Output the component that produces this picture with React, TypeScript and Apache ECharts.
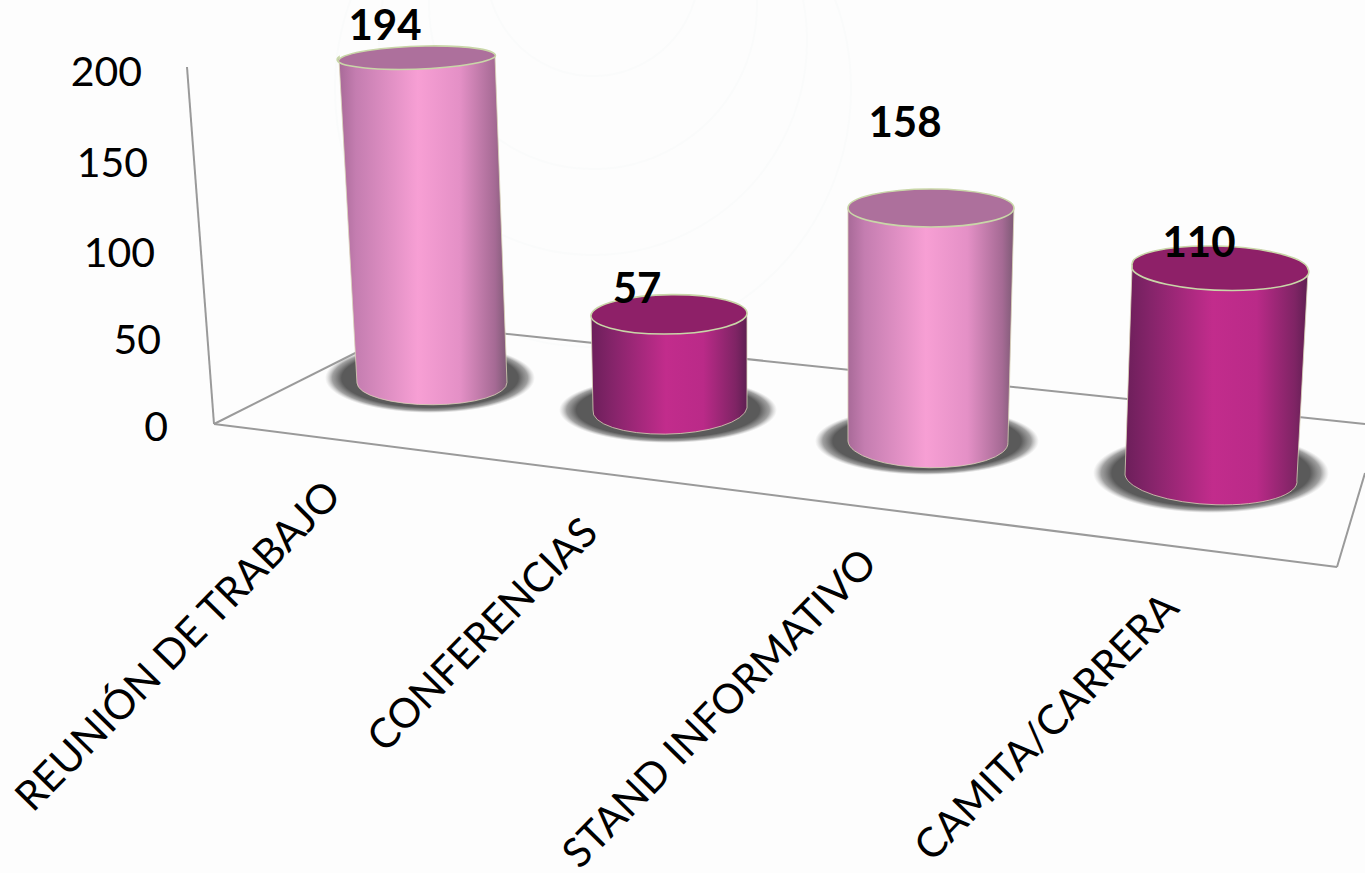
import React, { useEffect, useRef } from "react";
import * as echarts from "echarts";

// ---- data ----
const categories = ["REUNIÓN DE TRABAJO", "CONFERENCIAS", "STAND INFORMATIVO", "CAMITA/CARRERA"];
const values = [194, 57, 158, 110];
const yTicks = [0, 50, 100, 150, 200];

// ---- the reference's 3-D perspective, per category (layout only) ----
const baseOffset = [[77.6, -42], [34.9, -15], [12.1, 16], [14.4, 50]];
const heightScale = [0.947, 0.949, 0.831, 1.055];
const topLean = [-15, -1, 3, 9];
const topRadii = [[78, 12, -2], [78, 20, -1], [83, 19, 0], [88, 21, 2.3]];
const bottomRadii = [[75, 22, -0.4], [77, 25, -1.5], [80, 26, 1], [86, 27, 3.3]];
const shadows = [[430, 378, 105, 35], [668, 410, 109, 33], [927, 441, 112, 34], [1211, 473, 118, 40]];
const labelOffset = [[-32, -33], [-32, -27], [-26, -87], [-21, -28]];
const axisLabelEnd = [[332, 487], [589, 524], [868, 555], [1170, 599]];
const tickNudge: Record<number, number[]> = {
  0: [0, 0], 50: [3.5, 7], 100: [7, 13], 150: [4.5, 20], 200: [0, 26],
};
const backgroundRings = [[593, 89, 258], [593, 41, 214], [593, 5, 164], [593, -30, 106]];

const FONT = "Lato, 'Open Sans', sans-serif";
const LIGHT = {
  top: "#ad709c",
  body: [[0, "#a86a98"], [0.1, "#c47db0"], [0.47, "#f79fd4"], [0.72, "#e490c6"], [0.93, "#a56a94"], [1, "#7d5a75"]],
};
const DARK = {
  top: "#8e2068",
  body: [[0, "#6c1f5a"], [0.14, "#85246a"], [0.48, "#c22c8c"], [0.72, "#ba2a88"], [0.93, "#7e2464"], [1, "#5e1f52"]],
};
const palette = [LIGHT, DARK, LIGHT, DARK];

function ends(cx: number, cy: number, rx: number, deg: number) {
  const t = (deg * Math.PI) / 180;
  return {
    lx: cx - rx * Math.cos(t), ly: cy - rx * Math.sin(t),
    rx2: cx + rx * Math.cos(t), ry2: cy + rx * Math.sin(t),
  };
}

function renderCylinder(_: any, api: any) {
  const i = api.value(0);
  const v = api.value(1);
  const origin = api.coord([i, 0]);
  const bx = origin[0] + baseOffset[i][0];
  const by = origin[1] + baseOffset[i][1];
  const h = api.size([0, v])[1] * heightScale[i];
  const tx = bx + topLean[i];
  const ty = by - h;
  const [trx, try_, tdeg] = topRadii[i];
  const [brx, bry, bdeg] = bottomRadii[i];
  const T = ends(tx, ty, trx, tdeg);
  const B = ends(bx, by, brx, bdeg);
  const pal = palette[i];
  const grad = new echarts.graphic.LinearGradient(0, 0, 1, 0,
    pal.body.map((s: any) => ({ offset: s[0], color: s[1] })));
  const [sx, sy, srx, sry] = shadows[i];
  return {
    type: "group",
    children: [
      {
        type: "ellipse",
        shape: { cx: sx, cy: sy, rx: srx, ry: sry },
        style: {
          fill: new echarts.graphic.RadialGradient(0.5, 0.5, 0.5, [
            { offset: 0, color: "#5a5a5a" },
            { offset: 0.84, color: "#5a5a5a" },
            { offset: 0.93, color: "rgba(120,120,120,0.7)" },
            { offset: 1, color: "rgba(170,170,170,0)" },
          ]),
        },
      },
      {
        type: "path",
        shape: {
          pathData: `M${T.lx} ${T.ly}L${T.rx2} ${T.ry2}L${B.rx2} ${B.ry2}A${brx} ${bry} ${bdeg} 0 1 ${B.lx} ${B.ly}Z`,
        },
        style: { fill: grad, stroke: "#d9d3b8", lineWidth: 0.8 },
      },
      {
        type: "path",
        shape: {
          pathData: `M${T.lx} ${T.ly}A${trx} ${try_} ${tdeg} 0 1 ${T.rx2} ${T.ry2}A${trx} ${try_} ${tdeg} 0 1 ${T.lx} ${T.ly}Z`,
        },
        style: { fill: pal.top, stroke: "#c9d6a8", lineWidth: 1.6 },
      },
      {
        type: "text",
        x: tx + labelOffset[i][0],
        y: ty + labelOffset[i][1],
        style: {
          text: String(v), fontFamily: FONT, fontWeight: "bold", fontSize: 42,
          fill: "#000", align: "center", verticalAlign: "middle",
        },
      },
      {
        type: "text",
        x: axisLabelEnd[i][0],
        y: axisLabelEnd[i][1],
        rotation: (45.5 * Math.PI) / 180,
        style: {
          text: categories[i], fontFamily: FONT, fontSize: 41,
          fill: "#000", align: "right", verticalAlign: "middle",
        },
      },
    ],
  };
}

const floorLine = (x1: number, y1: number, x2: number, y2: number) => ({
  type: "line",
  shape: { x1, y1, x2, y2 },
  style: { stroke: "#9a9a9a", lineWidth: 2 },
  z: 1,
});

export default function App() {
  const ref = useRef<HTMLDivElement>(null);
  useEffect(() => {
    document.body.style.margin = "0";
    const chart = echarts.init(ref.current!, null, { renderer: "svg" });
    const rich: any = {};
    yTicks.forEach((t) => {
      rich["t" + t] = {
        fontFamily: FONT, fontSize: 41, color: "#000",
        padding: [tickNudge[t][0], tickNudge[t][1], 0, 0],
      };
    });
    chart.setOption({
      animation: false,
      backgroundColor: "#fdfdfd",
      graphic: {
        elements: [
          ...backgroundRings.map(([cx, cy, r]) => ({
            type: "circle",
            shape: { cx, cy, r },
            style: { fill: "none", stroke: "#fafbfb", lineWidth: 2 },
            z: 0,
          })),
          floorLine(187, 67, 214, 424),
          floorLine(214, 424, 1337, 567),
          floorLine(214, 424, 413, 324),
          floorLine(413, 324, 1365, 424),
          floorLine(1337, 567, 1365, 473),
        ],
      },
      grid: { left: 214, top: 70, width: 1123, height: 355 },
      xAxis: {
        type: "category", data: categories,
        axisLine: { show: false }, axisTick: { show: false }, axisLabel: { show: false }, splitLine: { show: false },
      },
      yAxis: {
        type: "value", min: 0, max: 200, interval: 50,
        axisLine: { show: false }, axisTick: { show: false }, splitLine: { show: false },
        axisLabel: {
          margin: 46, align: "right",
          formatter: (v: number) => `{t${v}|${v}}`,
          rich,
        },
      },
      series: [
        {
          type: "custom",
          renderItem: renderCylinder,
          encode: { x: 0, y: 1 },
          data: values.map((v, i) => [i, v]),
          clip: false,
          z: 3,
        },
      ],
    });
    return () => chart.dispose();
  }, []);
  return <div ref={ref} style={{ width: 1365, height: 873 }} />;
}
